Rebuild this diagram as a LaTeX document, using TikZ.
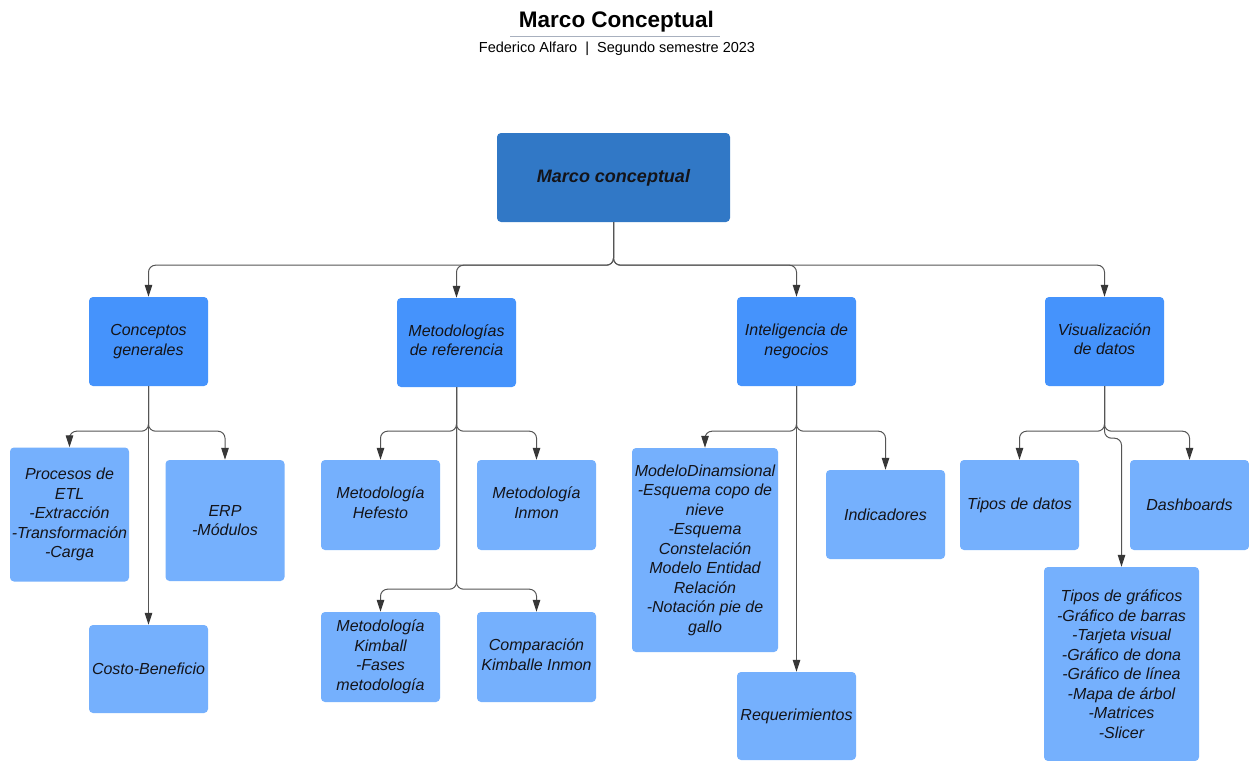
\documentclass[tikz,border=0pt]{standalone}
\usepackage{fontspec}
\setmainfont{Liberation Sans}
\usetikzlibrary{arrows.meta,calc}
\definecolor{rootblue}{RGB}{49,120,198}
\definecolor{midblue}{RGB}{69,147,252}
\definecolor{leafblue}{RGB}{117,176,253}
\definecolor{wire}{RGB}{85,85,85}
\definecolor{tipgray}{RGB}{55,55,55}
\definecolor{rulegray}{RGB}{168,176,190}
\definecolor{ink}{RGB}{20,20,25}
\begin{document}
\begin{tikzpicture}[x=1pt,y=-1pt,
  card/.style={rounded corners=4pt, inner sep=1pt, align=center, text=ink,
    font=\fontsize{16}{19.5}\selectfont\itshape},
  rootcard/.style={card, fill=rootblue, font=\fontsize{18}{22}\selectfont\bfseries\itshape},
  topic/.style={card, fill=midblue, minimum width=119pt, minimum height=89pt},
  leaf/.style={card, fill=leafblue, minimum width=119pt},
  link/.style={draw=wire, line width=1pt, rounded corners=7pt,
    -{Triangle[length=12pt,width=7.5pt,color=tipgray]}}
]
\useasboundingbox (0,0) rectangle (1249,760);
\fill[white] (0,0) rectangle (1249,760);

% heading
\node[anchor=base, font=\fontsize{22.5}{27}\selectfont\bfseries] (title) at (616.5,28) {Marco Conceptual};
\draw[rulegray, line width=1pt] (510,36.5) -- (720,36.5);
\node[anchor=base, font=\fontsize{14.5}{17}\selectfont] (subtitle) at (617,52.5) {Federico Alfaro \ | \ Segundo semestre 2023};

% root
\node[rootcard, minimum width=233pt, minimum height=89pt] (root) at (613.5,177.5) {Marco conceptual};

% first level
\node[topic] (cg) at (148.5,341.5) {Conceptos\\generales};
\node[topic] (mr) at (456.5,342.5) {Metodologías\\de referencia\\[-15pt]};
\node[topic] (ng) at (796.5,341.5) {Inteligencia de\\negocios};
\node[topic] (vd) at (1104.5,341.5) {Visualización\\de datos\\[-15pt]};

% second level: conceptos generales
\node[leaf, minimum height=134pt] (etl) at (69.5,514.5) {Procesos de\\ETL\\-Extracción\\-Transformación\\-Carga};
\node[leaf, minimum height=121pt] (erp) at (225,520.5) {ERP\\-Módulos};
\node[leaf, minimum height=88pt] (cb) at (148.5,669) {Costo-Beneficio};

% second level: metodologias
\node[leaf, minimum height=90pt] (hef) at (380.5,505) {Metodología\\Hefesto\\[-15pt]};
\node[leaf, minimum height=90pt] (inm) at (536.5,505) {Metodología\\Inmon\\[-15pt]};
\node[leaf, minimum height=90pt] (kim) at (380.5,657) {Metodología\\Kimball\\-Fases\\metodología};
\node[leaf, minimum height=90pt] (cmp) at (536.5,657) {Comparación\\Kimballe Inmon\\[-15pt]};

% second level: inteligencia de negocios
\node[leaf, minimum width=146pt, minimum height=204pt] (mod) at (705,550) {ModeloDinamsional\\-Esquema copo de\\nieve\\-Esquema\\Constelación\\Modelo Entidad\\Relación\\-Notación pie de\\gallo};
\node[leaf, minimum height=89pt] (ind) at (885.5,514.5) {Indicadores};
\node[leaf, minimum height=88pt] (req) at (796.5,716) {Requerimientos};

% second level: visualizacion
\node[leaf, minimum height=90pt] (tdd) at (1019.5,505) {Tipos de datos};
\node[leaf, minimum height=90pt] (dsh) at (1189.5,505) {Dashboards};
\node[leaf, minimum width=155pt, minimum height=194pt] (gra) at (1121.5,664) {Tipos de gráficos\\-Gráfico de barras\\-Tarjeta visual\\-Gráfico de dona\\-Gráfico de línea\\-Mapa de árbol\\-Matrices\\-Slicer};

% connectors from the root
\foreach \t in {cg,mr,ng,vd}
  \draw[link] (root.south) -- ++(0,-43pt) -| (\t.north);

% connectors: conceptos generales
\draw[link] (cg.south) -- ++(0,-45pt) -| (etl.north);
\draw[link] (cg.south) -- ++(0,-45pt) -| (erp.north);
\draw[link] (cg.south) -- (cb.north);

% connectors: metodologias
\draw[link] (mr.south) -- ++(0,-44pt) -| (hef.north);
\draw[link] (mr.south) -- ++(0,-44pt) -| (inm.north);
\draw[link] (mr.south) -- ++(0,-202pt) -| (kim.north);
\draw[link] (mr.south) -- ++(0,-202pt) -| (cmp.north);

% connectors: inteligencia de negocios
\draw[link] (ng.south) -- ++(0,-45pt) -| (mod.north);
\draw[link] (ng.south) -- ++(0,-45pt) -| (ind.north);
\draw[link] (ng.south) -- (req.north);

% connectors: visualizacion
\draw[link] (vd.south) -- ++(0,-45pt) -| (tdd.north);
\draw[link] (vd.south) -- ++(0,-45pt) -| (dsh.north);
\draw[link] (vd.south) -- ++(0,-52pt) -| (gra.north);
\end{tikzpicture}
\end{document}
